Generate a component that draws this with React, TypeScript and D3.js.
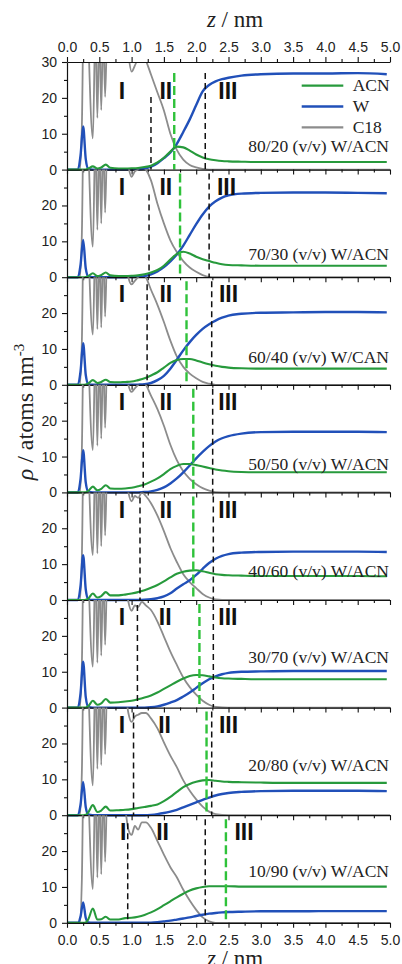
import { useEffect, useRef } from 'react';
import * as d3 from 'd3';

const W = 402, H = 964;
const X0 = 67, X1 = 390, TOP = 62, PH = 107.6;

const PANEL_LABELS = [
  '80/20 (v/v) W/ACN', '70/30 (v/v) W/ACN', '60/40 (v/v) W/CAN', '50/50 (v/v) W/ACN',
  '40/60 (v/v) W/ACN', '30/70 (v/v) W/ACN', '20/80 (v/v) W/ACN', '10/90 (v/v) W/ACN',
];

// z grid (nm) for water and ACN profiles
const Z = [0, 0.17, 0.21, 0.25, 0.29, 0.33, 0.4, 0.47, 0.53, 0.6, 0.67, 0.8, 0.9, 1.0, 1.1, 1.2, 1.3, 1.4, 1.5, 1.6, 1.7, 1.8, 1.9, 2.0, 2.1, 2.2, 2.3, 2.4, 2.5, 2.7, 3.0, 3.5, 4.0, 4.5, 4.95];

const W_RHO = [
  [0, 0, 4, 12, 3, 0.2, 0, 0, 0, 0, 0, 0, 0, 0.05, 0.1, 0.3, 0.8, 1.8, 3.2, 4.8, 7.2, 10.5, 14, 18, 21.8, 23.6, 24.6, 25.2, 25.6, 26.2, 26.6, 26.8, 26.8, 26.9, 26.6],
  [0, 0, 3.5, 10.4, 2.5, 0.2, 0, 0, 0, 0, 0, 0, 0, 0.05, 0.1, 0.3, 0.8, 1.6, 2.8, 4.4, 6.3, 8.8, 11.8, 14.8, 17.5, 19.7, 21.2, 22.2, 22.8, 23.3, 23.5, 23.6, 23.6, 23.5, 23.4],
  [0, 0, 3.8, 11.6, 2.8, 0.2, 0, 0, 0, 0, 0, 0, 0, 0, 0.05, 0.15, 0.5, 1.3, 2.5, 4.5, 7.0, 9.6, 11.9, 13.9, 15.6, 16.9, 17.9, 18.7, 19.3, 19.8, 20.1, 20.2, 20.3, 20.3, 20.2],
  [0, 0, 3.8, 11.8, 2.8, 0.2, 0, 0, 0, 0, 0, 0, 0, 0, 0.02, 0.1, 0.3, 0.7, 1.4, 2.5, 3.9, 5.6, 7.5, 9.5, 11.3, 12.9, 14.2, 15.1, 15.7, 16.4, 16.8, 16.9, 16.9, 16.9, 16.8],
  [0, 0, 4, 12.5, 3, 0.2, 0, 0, 0, 0, 0, 0, 0, 0, 0, 0.05, 0.2, 0.5, 1.0, 1.9, 3.2, 4.4, 5.5, 7.0, 8.7, 10.3, 11.5, 12.3, 12.8, 13.2, 13.4, 13.5, 13.5, 13.5, 13.4],
  [0, 0, 4, 12.8, 3, 0.2, 0, 0, 0, 0, 0, 0, 0, 0, 0, 0, 0.1, 0.35, 0.8, 1.4, 2.1, 3.1, 4.2, 5.5, 6.8, 7.9, 8.7, 9.3, 9.7, 10.0, 10.1, 10.2, 10.2, 10.2, 10.2],
  [0, 0, 3, 9.3, 2.3, 0.2, 0, 0, 0, 0, 0, 0, 0, 0, 0, 0, 0.1, 0.3, 0.6, 1.0, 1.5, 2.2, 2.9, 3.6, 4.3, 4.9, 5.5, 5.9, 6.2, 6.5, 6.7, 6.8, 6.8, 6.8, 6.7],
  [0, 0, 1.8, 5.7, 1.4, 0.1, 0, 0, 0, 0, 0, 0, 0, 0, 0, 0, 0.05, 0.2, 0.4, 0.6, 0.9, 1.2, 1.5, 1.9, 2.25, 2.55, 2.75, 2.9, 3.0, 3.1, 3.2, 3.2, 3.25, 3.25, 3.25],
];

const ACN_RHO = [
  [0, 0, 0, 0, 0.05, 0.3, 0.9, 0.3, 0.6, 1.4, 0.5, 0.3, 0.3, 0.35, 0.45, 0.7, 1.1, 2.0, 3.3, 5.0, 6.4, 6.2, 5.3, 4.2, 3.4, 2.9, 2.6, 2.4, 2.3, 2.2, 2.1, 2.1, 2.1, 2.1, 2.1],
  [0, 0, 0, 0, 0.05, 0.3, 1.1, 0.3, 0.6, 1.3, 0.5, 0.35, 0.35, 0.4, 0.5, 0.8, 1.3, 2.0, 3.2, 4.9, 6.5, 7.1, 6.6, 5.7, 5.0, 4.5, 4.0, 3.6, 3.4, 3.3, 3.2, 3.2, 3.2, 3.2, 3.2],
  [0, 0, 0, 0, 0.05, 0.4, 1.3, 0.5, 0.8, 1.4, 0.8, 0.7, 0.8, 0.9, 1.3, 1.8, 2.6, 3.5, 4.8, 6.1, 6.9, 7.2, 7.2, 6.8, 6.2, 5.7, 5.3, 5.0, 4.8, 4.6, 4.5, 4.5, 4.5, 4.5, 4.5],
  [0, 0, 0, 0, 0.05, 0.4, 1.6, 0.6, 1.0, 2.0, 1.1, 1.0, 1.1, 1.3, 1.7, 2.2, 3.0, 3.9, 5.1, 6.5, 7.4, 7.9, 7.9, 7.6, 7.2, 6.8, 6.4, 6.1, 5.9, 5.7, 5.6, 5.6, 5.6, 5.6, 5.6],
  [0, 0, 0, 0, 0.05, 0.4, 1.8, 0.7, 1.1, 2.2, 1.3, 1.3, 1.5, 1.8, 2.2, 2.7, 3.4, 4.2, 5.2, 6.3, 7.3, 7.9, 8.2, 8.3, 8.0, 7.6, 7.2, 7.0, 6.9, 6.8, 6.7, 6.7, 6.7, 6.7, 6.6],
  [0, 0, 0, 0, 0.05, 0.4, 1.9, 0.8, 1.2, 2.4, 1.4, 1.5, 1.7, 1.9, 2.3, 2.8, 3.4, 4.2, 5.2, 6.2, 7.2, 8.1, 8.8, 9.1, 9.0, 8.7, 8.4, 8.2, 8.1, 8.0, 7.9, 7.9, 7.9, 7.9, 7.9],
  [0, 0, 0, 0, 0.1, 0.8, 2.8, 0.9, 1.3, 2.4, 1.3, 1.4, 1.5, 1.7, 2.0, 2.3, 2.6, 3.0, 3.9, 5.1, 6.5, 7.8, 8.7, 9.3, 9.7, 9.8, 9.6, 9.4, 9.3, 9.2, 9.1, 9.0, 9.0, 9.0, 9.0],
  [0, 0, 0, 0, 0.1, 1.0, 4.0, 0.9, 1.0, 1.7, 0.9, 0.9, 1.3, 1.4, 1.7, 2.2, 2.9, 3.8, 4.9, 6.0, 7.1, 8.1, 9.0, 9.6, 10.0, 10.2, 10.2, 10.2, 10.2, 10.1, 10.1, 10.1, 10.1, 10.1, 10.1],
];

// z grid (nm) for the C18 profile
const ZC = [0, 0.2, 0.23, 0.27, 0.4, 0.44, 0.47, 0.5, 0.53, 0.56, 0.59, 0.63, 0.7, 0.8, 0.9, 0.95, 1.0, 1.05, 1.1, 1.16, 1.22, 1.3, 1.4, 1.5, 1.6, 1.7, 1.8, 1.9, 2.0, 2.1, 2.2, 2.3, 2.5, 5.0];

const C18_RHO = [
  [0, 0, 12, 60, 8.7, 40, 14.4, 40, 16.6, 40, 20.3, 45, 50, 45, 40, 32, 27.3, 29, 31, 33, 30.5, 26.5, 21.5, 16.5, 10, 5.5, 2.8, 1.3, 0.6, 0.2, 0, 0, 0, 0],
  [0, 0, 12, 60, 8.5, 40, 13.2, 40, 15, 40, 18, 45, 50, 45, 38, 31, 28, 29.5, 30, 31, 30, 27, 20.5, 15, 10.3, 7, 4.5, 2.7, 1.5, 0.6, 0.1, 0, 0, 0],
  [0, 0, 12, 60, 14, 40, 15.5, 40, 16, 40, 19, 45, 50, 45, 38, 30, 28, 29, 30, 31, 30, 26.5, 22.3, 17.5, 12.3, 7.9, 5, 3.1, 1.8, 0.8, 0.3, 0, 0, 0],
  [0, 0, 12, 60, 11.8, 40, 13, 40, 15, 40, 18, 45, 50, 45, 37, 30, 28, 29, 30, 31, 30, 27, 23.2, 18.6, 13.3, 9, 5.9, 3.8, 2.3, 1.2, 0.5, 0.1, 0, 0],
  [0, 0, 12, 60, 12.5, 40, 13, 40, 15, 40, 18, 45, 50, 45, 36, 30, 27.5, 29, 28.5, 30, 29, 27, 23.5, 19.2, 14.5, 10.6, 7.2, 5, 3.3, 1.7, 0.7, 0.2, 0, 0],
  [0, 0, 12, 60, 11.4, 40, 12.5, 40, 14.5, 40, 17.5, 45, 50, 45, 36, 29.5, 27, 28.5, 28, 29.5, 28.5, 27.2, 24, 19.8, 15.6, 11.9, 8.4, 5.7, 3.6, 1.9, 0.8, 0.2, 0, 0],
  [0, 0, 12, 60, 8.3, 40, 12.9, 40, 14, 40, 17, 45, 50, 45, 35, 28.5, 26, 27.5, 28, 28.5, 28.5, 27, 24.2, 20.3, 16.6, 13.4, 9.7, 6.8, 4.4, 2.4, 1.0, 0.3, 0, 0],
  [0, 0, 12, 60, 9.4, 40, 12.6, 40, 13.5, 40, 17, 45, 50, 40, 32, 26, 24.5, 27, 26, 28, 28, 26.5, 22.8, 19, 15.5, 12.7, 9.2, 6.2, 3.6, 1.5, 0.4, 0, 0, 0],
];

// region boundaries (black dashed) and ACN marker (green dashed), nm
const BOUND_1 = [1.30, 1.27, 1.24, 1.18, 1.13, 1.09, 1.03, 0.94];
const BOUND_2 = [2.14, 2.20, 2.24, 2.255, 2.265, 2.265, 2.24, 2.14];
const ACN_MARK = [1.66, 1.75, 1.85, 1.955, 1.955, 2.05, 2.16, 2.46];

// where the region numerals sit, nm
const REGION_I = [0.85, 0.85, 0.85, 0.85, 0.85, 0.85, 0.85, 0.87];
const REGION_II = [1.53, 1.53, 1.53, 1.53, 1.53, 1.52, 1.51, 1.48];
const REGION_III = [2.49, 2.47, 2.5, 2.49, 2.49, 2.49, 2.5, 2.74];

const LEGEND = [
  { name: 'ACN', color: '#279a3c' },
  { name: 'W', color: '#2150b9' },
  { name: 'C18', color: '#8c8c8c' },
];

const LABEL_OFF = [90, 90, 86, 85, 85, 63, 63, 62];
const DASH1_OFF = [35, 25, 7, 7, 5, 5, 5, 8];

const SERIF = '"Liberation Serif", "Times New Roman", serif';
const SANS = '"Liberation Sans", Arial, sans-serif';

export default function App() {
  const ref = useRef<SVGSVGElement>(null);

  useEffect(() => {
    const svg = d3.select(ref.current);
    svg.selectAll('*').remove();

    const x = d3.scaleLinear().domain([0, 5]).range([X0, X1]);
    const majorX = d3.range(0, 11).map((k) => k * 0.5);
    const minorX = d3.range(0, 10).map((k) => k * 0.5 + 0.25);

    const styleAxis = (g: any) => {
      g.selectAll('path.domain').attr('stroke', '#111').attr('stroke-width', 1.2);
      g.selectAll('line').attr('stroke', '#111').attr('stroke-width', 1.1);
      g.selectAll('text').attr('font-family', SANS).attr('font-size', 14).attr('fill', '#222');
    };

    PANEL_LABELS.forEach((label, i) => {
      const top = TOP + i * PH;
      const y = d3.scaleLinear().domain([0, 30]).range([top + PH, top]);
      const g = svg.append('g');

      const clipId = `clip-${i}`;
      g.append('clipPath').attr('id', clipId)
        .append('rect').attr('x', X0).attr('y', top).attr('width', X1 - X0 + 2).attr('height', PH + 2);

      const line = d3.line<[number, number]>()
        .x((d) => x(d[0]))
        .y((d) => y(d[1]))
        .curve(d3.curveMonotoneX);

      const curves = g.append('g').attr('clip-path', `url(#${clipId})`).attr('fill', 'none');
      curves.append('path').attr('d', line(d3.zip(ZC, C18_RHO[i]) as [number, number][]))
        .attr('stroke', LEGEND[2].color).attr('stroke-width', 1.8);
      curves.append('path').attr('d', line(d3.zip(Z, W_RHO[i]) as [number, number][]))
        .attr('stroke', LEGEND[1].color).attr('stroke-width', 2.4);
      curves.append('path').attr('d', line(d3.zip(Z, ACN_RHO[i]) as [number, number][]))
        .attr('stroke', LEGEND[0].color).attr('stroke-width', 2.1);

      // dashed markers
      const off2 = i === 0 ? 11 : 4;
      g.append('line').attr('x1', x(BOUND_1[i])).attr('x2', x(BOUND_1[i]))
        .attr('y1', top + DASH1_OFF[i]).attr('y2', top + PH)
        .attr('stroke', '#111').attr('stroke-width', 1.5).attr('stroke-dasharray', '6,4');
      g.append('line').attr('x1', x(BOUND_2[i])).attr('x2', x(BOUND_2[i]))
        .attr('y1', top + off2).attr('y2', top + PH)
        .attr('stroke', '#111').attr('stroke-width', 1.5).attr('stroke-dasharray', '6,4');
      g.append('line').attr('x1', x(ACN_MARK[i])).attr('x2', x(ACN_MARK[i]))
        .attr('y1', top + off2).attr('y2', top + PH)
        .attr('stroke', '#2fc23a').attr('stroke-width', 2.4).attr('stroke-dasharray', '9,4');

      // region numerals
      const ny = top + (i === 0 ? 29 : 17);
      [['I', REGION_I[i]], ['II', REGION_II[i]], ['III', REGION_III[i]]].forEach(([t, z]) => {
        g.append('text').attr('x', x(z as number)).attr('y', ny).attr('dy', '0.36em')
          .attr('text-anchor', 'middle').attr('font-family', SANS).attr('font-weight', 'bold')
          .attr('font-size', 23).attr('fill', '#111').text(t as string);
      });

      // composition label
      g.append('text').attr('x', 389).attr('y', top + LABEL_OFF[i])
        .attr('text-anchor', 'end').attr('font-family', SERIF).attr('font-size', 17.5)
        .attr('fill', '#222').text(label);

      // axes
      const left = g.append('g').attr('transform', `translate(${X0},0)`)
        .call(d3.axisLeft(y).tickValues(i === 0 ? [0, 10, 20, 30] : [0, 10, 20])
          .tickSize(5).tickSizeOuter(0).tickPadding(5));
      styleAxis(left);
      const leftMinor = g.append('g').attr('transform', `translate(${X0},0)`)
        .call(d3.axisLeft(y).tickValues([5, 15, 25]).tickSize(3).tickFormat(() => ''));
      leftMinor.select('path.domain').remove();
      styleAxis(leftMinor);

      const last = i === PANEL_LABELS.length - 1;
      const bottom = g.append('g').attr('transform', `translate(0,${top + PH})`)
        .call(d3.axisBottom(x).tickValues(majorX).tickSize(5).tickSizeOuter(0).tickPadding(7)
          .tickFormat(last ? (d3.format('.1f') as any) : () => ''));
      styleAxis(bottom);
      const bottomMinor = g.append('g').attr('transform', `translate(0,${top + PH})`)
        .call(d3.axisBottom(x).tickValues(minorX).tickSize(3).tickFormat(() => ''));
      bottomMinor.select('path.domain').remove();
      styleAxis(bottomMinor);

      if (i === 0) {
        const topAxis = g.append('g').attr('transform', `translate(0,${top})`)
          .call(d3.axisTop(x).tickValues(majorX).tickSize(5).tickSizeOuter(0).tickPadding(5)
            .tickFormat(d3.format('.1f') as any));
        styleAxis(topAxis);
        const topMinor = g.append('g').attr('transform', `translate(0,${top})`)
          .call(d3.axisTop(x).tickValues(minorX).tickSize(3).tickFormat(() => ''));
        topMinor.select('path.domain').remove();
        styleAxis(topMinor);

        // legend
        LEGEND.forEach((d, k) => {
          const ly = top + 23.7 + k * 20.8;
          g.append('line').attr('x1', 301.7).attr('x2', 343.3).attr('y1', ly).attr('y2', ly)
            .attr('stroke', d.color).attr('stroke-width', d.name === 'W' ? 2.6 : 2.2);
          g.append('text').attr('x', 352.7).attr('y', ly + 5.5)
            .attr('font-family', SERIF).attr('font-size', 17.5).attr('fill', '#222').text(d.name);
        });
      }
    });

    // axis titles (the bottom one sits at the page edge, as in the source figure)
    const zTitle = (yy: number) => {
      const t = svg.append('text').attr('x', 235).attr('y', yy).attr('text-anchor', 'middle')
        .attr('font-family', SERIF).attr('font-size', 23).attr('fill', '#222');
      t.append('tspan').attr('font-style', 'italic').text('z');
      t.append('tspan').text(' / nm');
    };
    zTitle(27);
    zTitle(966);

    const yt = svg.append('text').attr('transform', 'translate(33,412) rotate(-90)')
      .attr('text-anchor', 'middle').attr('font-family', SERIF).attr('font-size', 24).attr('fill', '#222');
    yt.append('tspan').attr('font-style', 'italic').text('ρ');
    yt.append('tspan').text(' / atoms nm');
    yt.append('tspan').attr('font-size', 15).attr('dy', -9).text('-3');
  }, []);

  return (
    <svg ref={ref} width={W} height={H} style={{ position: 'absolute', left: 0, top: 0, background: '#fff' }} />
  );
}
